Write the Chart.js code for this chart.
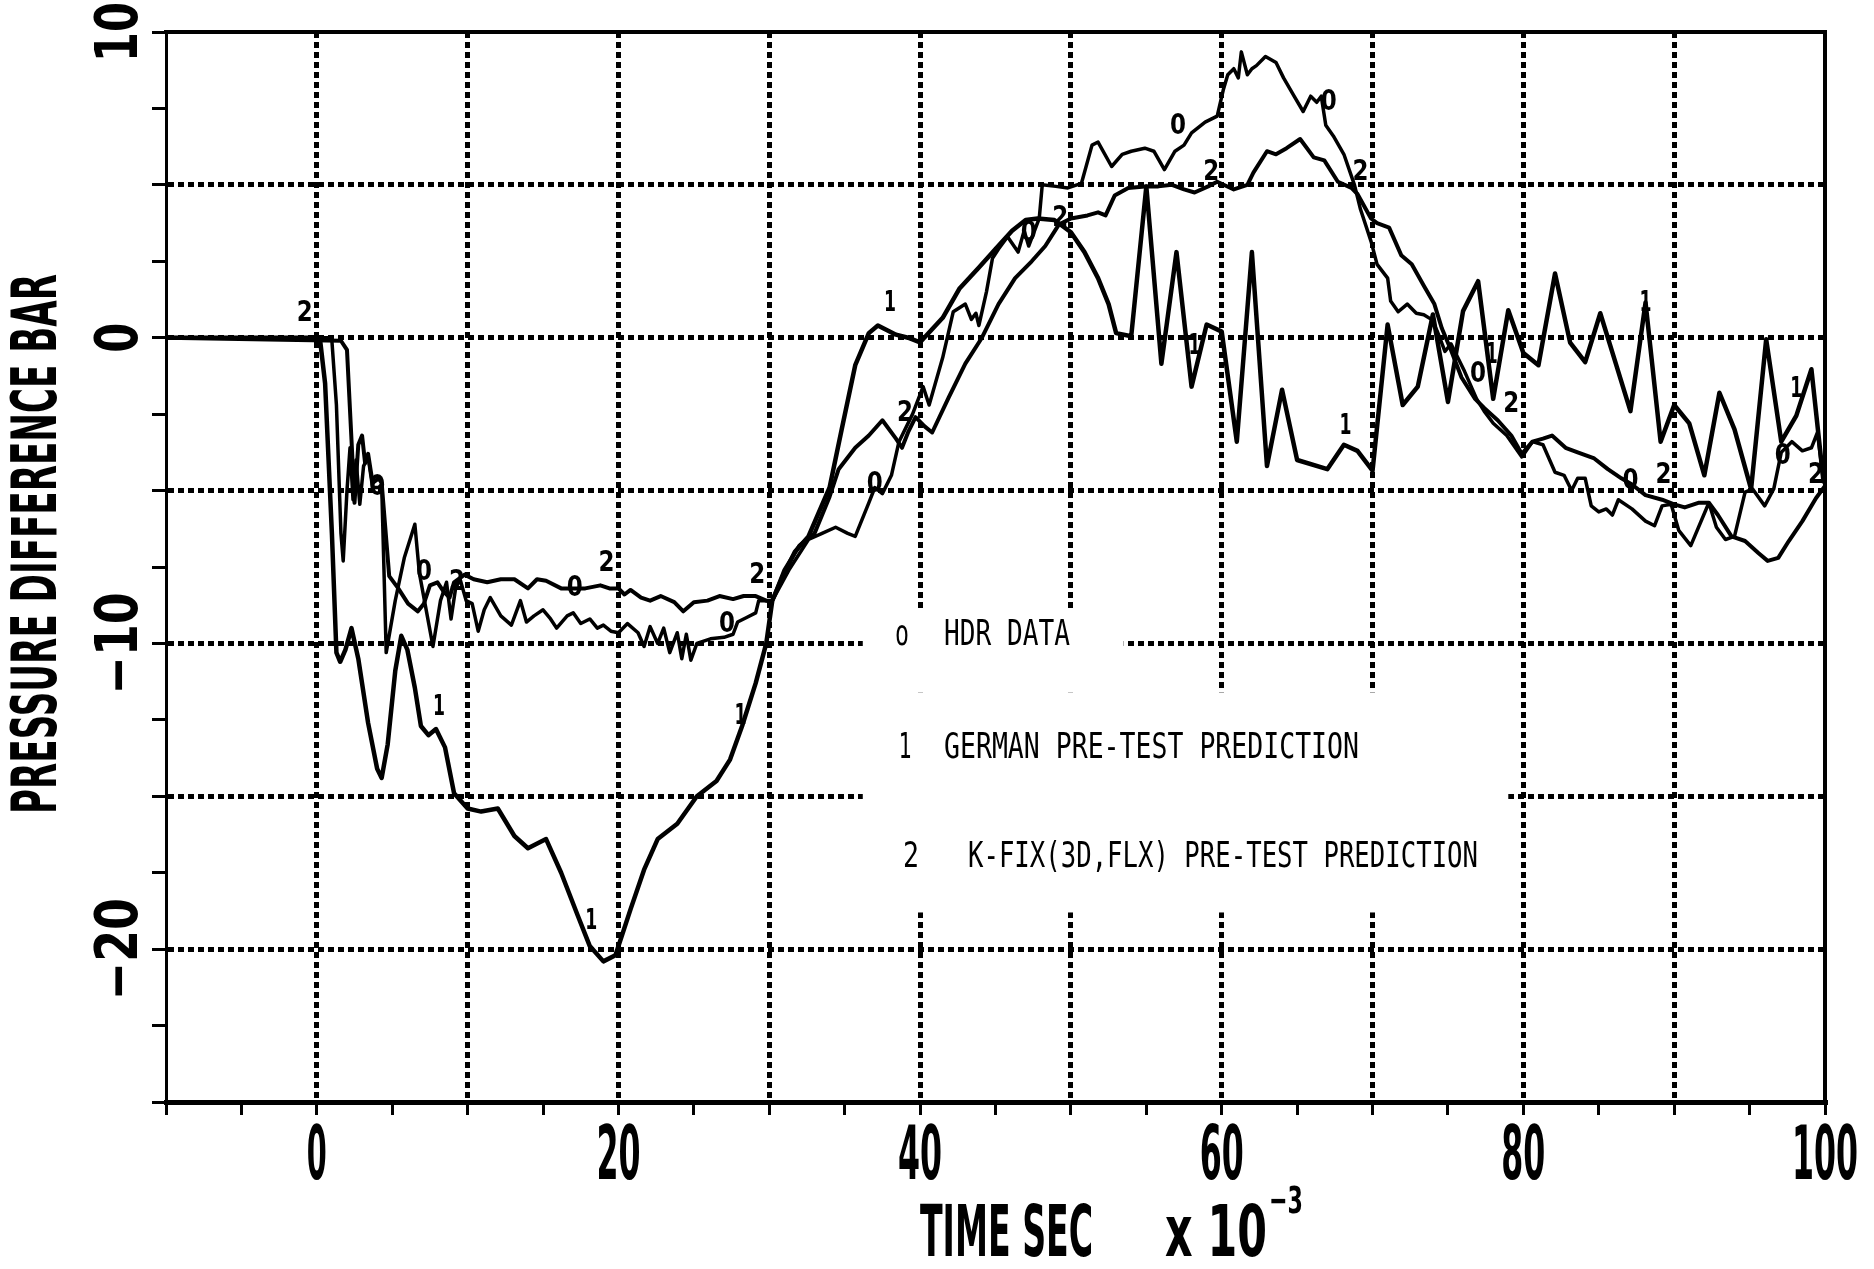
<!DOCTYPE html>
<html>
<head>
<meta charset="utf-8">
<script src="https://cdn.jsdelivr.net/npm/chart.js@4.4.1/dist/chart.umd.min.js"></script>
<style>
  html, body { margin: 0; padding: 0; background: #fff; }
</style>
</head>
<body>
<canvas id="chart" width="1874" height="1269"></canvas>
<script>
// tick labels
const timeTicks = [0, 20, 40, 60, 80, 100];
const pressureTicks = [10, 0, -10, -20];

// [time (ms), pressure difference (bar)]
const hdrData = [
  [-10,0],[0.8,0],[1.0,-0.1],[1.3,-2.2],[1.6,-6.4],[1.75,-7.3],[2.0,-5.0],[2.2,-3.6],[2.4,-5.3],[2.6,-4.0],
  [2.85,-5.45],[3.1,-4.2],[3.4,-3.9],[3.7,-4.9],[4.1,-4.9],[4.3,-4.8],[4.6,-10.3],[5.2,-8.6],[5.8,-7.2],[6.5,-6.1],
  [6.8,-7.7],[7.1,-8.5],[7.7,-10.1],[8.2,-8.6],[8.6,-8.0],[8.9,-9.2],[9.2,-8.2],[9.5,-7.9],[9.9,-8.6],[10.3,-8.7],
  [10.7,-9.6],[11.1,-8.9],[11.5,-8.5],[12.2,-9.1],[12.9,-9.4],[13.5,-8.6],[13.9,-9.3],[14.4,-9.1],[15,-8.9],[15.5,-9.2],
  [15.9,-9.5],[16.6,-9.1],[17,-9.0],[17.5,-9.35],[18.1,-9.2],[18.6,-9.5],[19,-9.4],[19.5,-9.6],[20,-9.65],[20.6,-9.35],
  [21.3,-9.65],[21.7,-10.1],[22.1,-9.45],[22.6,-10.0],[23,-9.5],[23.4,-10.3],[23.9,-9.65],[24.2,-10.5],[24.5,-9.7],[24.8,-10.55],
  [25.2,-10.0],[26.1,-9.85],[27,-9.8],[27.6,-9.7],[27.9,-9.3],[28.5,-9.15],[29.1,-9.0],[29.3,-8.6],[30.2,-8.6],[31.3,-7.6],
  [32.6,-6.6],[33.5,-6.4],[34.4,-6.2],[35.2,-6.4],[35.7,-6.5],[36.6,-5.4],[37,-4.9],[37.5,-5.1],[38.1,-4.5],[38.6,-3.4],
  [39.5,-2.5],[40.2,-1.6],[40.6,-2.2],[41.5,-0.65],[42.2,0.85],[43,1.1],[43.4,0.6],[43.7,0.8],[43.9,0.4],[44.4,1.5],
  [44.8,2.6],[45.2,2.9],[45.8,3.3],[46.5,2.8],[46.9,3.5],[47.2,3.0],[47.9,3.9],[48.1,5.0],[49,4.95],[49.8,4.9],
  [50.7,5.05],[51.4,6.3],[51.8,6.4],[52.7,5.6],[53.4,6.0],[54,6.1],[54.9,6.2],[55.5,6.1],[56.2,5.5],[56.9,6.1],
  [57.5,6.3],[58,6.7],[58.9,7.05],[59.7,7.25],[60.1,8.1],[60.4,8.6],[60.8,8.8],[61.1,8.5],[61.3,9.35],[61.7,8.6],
  [62,8.8],[62.3,8.9],[62.9,9.2],[63.6,9.0],[64.1,8.5],[64.8,7.9],[65.4,7.4],[65.9,7.9],[66.3,7.7],[66.6,7.9],
  [66.9,6.95],[67.4,6.6],[68.1,6.0],[68.8,5.0],[69.2,4.2],[69.9,3.15],[70.3,2.4],[71,1.95],[71.2,1.2],[71.7,0.85],
  [72.3,1.1],[72.9,0.8],[73.4,0.75],[73.9,0.6],[74.3,0.2],[74.8,-0.45],[75.2,-0.2],[76.1,-1.1],[76.9,-2.0],[77.4,-2.4],
  [78,-2.8],[78.9,-3.2],[79.9,-3.9],[80.6,-3.4],[81.3,-3.5],[82.1,-4.4],[82.7,-4.5],[83.2,-5.0],[83.6,-4.6],[84.1,-4.6],
  [84.5,-5.5],[85,-5.7],[85.5,-5.6],[85.9,-5.8],[86.3,-5.3],[87.2,-5.6],[88.1,-6.0],[88.7,-6.15],[89.2,-5.5],[89.8,-5.45],
  [90.3,-6.3],[91.1,-6.8],[92.3,-5.4],[92.8,-6.2],[93.4,-6.6],[94,-6.5],[94.7,-5.05],[95.2,-4.95],[96,-5.5],[96.6,-4.95],
  [97.1,-3.75],[97.8,-3.4],[98.5,-3.7],[99.1,-3.6],[99.5,-3.1],[99.9,-4.7]
];

const germanData = [
  [-10,0],[0.2,0],[0.55,-1.5],[1.0,-6.4],[1.3,-10.3],[1.55,-10.6],[1.9,-10.2],[2.3,-9.5],[2.75,-10.5],[3.4,-12.6],
  [4.0,-14.1],[4.3,-14.4],[4.7,-13.3],[5.2,-10.9],[5.6,-9.75],[6.0,-10.2],[6.5,-11.45],[6.9,-12.7],[7.4,-13.0],[7.9,-12.8],
  [8.5,-13.4],[9.1,-14.9],[10,-15.4],[10.9,-15.5],[12,-15.4],[13.1,-16.3],[14,-16.7],[15.2,-16.4],[16.2,-17.5],[17.3,-18.9],
  [18.1,-19.9],[19,-20.4],[19.8,-20.2],[20.8,-18.7],[21.7,-17.4],[22.6,-16.4],[23.9,-15.9],[25.2,-15.0],[26.5,-14.5],[27.4,-13.8],
  [28.2,-12.7],[29.1,-11.3],[29.8,-10.0],[30.2,-8.6],[30.9,-7.8],[31.7,-7.0],[32.6,-6.5],[34,-4.9],[34.8,-3.0],[35.7,-0.9],
  [36.6,0.15],[37.2,0.4],[38.4,0.1],[39.2,0],[40,-0.15],[41.5,0.65],[42.6,1.6],[43.9,2.3],[45,2.9],[46.1,3.5],
  [47,3.85],[47.8,3.9],[48.9,3.85],[50,3.45],[50.9,2.8],[51.8,1.95],[52.5,1.1],[53,0.15],[54,0.05],[55,4.95],
  [56,-0.85],[57,2.8],[58,-1.6],[59,0.43],[60,0.2],[61,-3.4],[62,2.8],[63,-4.2],[64,-1.7],[65,-4.0],
  [67,-4.3],[68.1,-3.5],[69,-3.7],[70,-4.35],[71,0.43],[72,-2.2],[73,-1.6],[74,0.76],[75,-2.1],[76,0.87],
  [77,1.85],[78,-2.0],[79,0.9],[80,-0.5],[81,-0.9],[82.1,2.1],[83.1,-0.16],[84.1,-0.8],[85.1,0.8],[86.1,-0.8],
  [87.1,-2.4],[88.1,1.15],[89.1,-3.4],[90,-2.2],[91,-2.8],[92,-4.5],[93,-1.8],[94,-3.0],[95.1,-4.95],[96.1,-0.05],
  [97.1,-3.4],[98.1,-2.55],[99.1,-1.03],[99.9,-4.7]
];

const kfixData = [
  [-10,0],[1.6,-0.1],[2.0,-0.4],[2.3,-3.35],[2.5,-5.4],[2.75,-3.5],[3.0,-3.2],[3.2,-4.1],[3.4,-3.8],[3.7,-4.75],
  [4.1,-4.6],[4.3,-4.75],[4.8,-7.8],[5.4,-8.2],[6.05,-8.7],[6.7,-8.95],[7.1,-8.7],[7.5,-8.1],[8.0,-8.0],[8.4,-8.3],
  [8.8,-8.5],[9.1,-8.0],[9.8,-7.75],[10.4,-7.9],[11.3,-8.0],[12.2,-7.9],[13.1,-7.9],[14,-8.2],[14.6,-7.9],[15.2,-7.95],
  [16.2,-8.2],[17,-8.2],[17.8,-8.2],[18.8,-8.1],[19.4,-8.2],[20,-8.2],[20.4,-8.4],[20.8,-8.25],[21.5,-8.5],[22.1,-8.6],
  [22.8,-8.45],[23.7,-8.65],[24.3,-8.95],[25,-8.65],[25.9,-8.6],[26.7,-8.45],[27.6,-8.55],[28.3,-8.45],[29.1,-8.45],[29.8,-8.6],
  [30.2,-8.6],[31,-7.6],[32,-6.8],[33,-6.4],[34,-5.2],[34.6,-4.3],[35.7,-3.6],[36.6,-3.2],[37.5,-2.7],[38.4,-3.3],
  [38.8,-3.6],[39.2,-3.1],[39.7,-2.6],[40.3,-2.9],[40.8,-3.1],[41.9,-1.95],[43,-0.85],[44.1,0],[45.2,1.1],[46.3,1.95],
  [47.4,2.5],[48.3,3.0],[49.2,3.7],[50,3.9],[51.1,4.0],[51.8,4.1],[52.3,4.0],[52.9,4.65],[53.8,4.9],[54.9,4.95],
  [55.8,4.95],[56.7,5.0],[57.5,4.85],[58.2,4.75],[59.1,4.95],[59.7,5.1],[60.8,4.85],[61.7,5.0],[62.1,5.4],[63,6.1],
  [63.6,6.0],[64.3,6.2],[65.2,6.5],[66.1,5.9],[66.8,5.8],[67.7,5.1],[68.6,4.9],[69,4.7],[69.9,3.9],[70.3,3.75],
  [71.1,3.6],[71.9,2.7],[72.6,2.4],[73.4,1.7],[74.1,1.1],[74.6,0.3],[75.2,-0.4],[75.9,-1.3],[76.8,-2.0],[77.4,-2.3],
  [78.3,-2.7],[79.2,-3.2],[79.9,-3.8],[80.6,-3.4],[81.3,-3.3],[81.9,-3.2],[82.8,-3.6],[83.6,-3.75],[84.7,-3.95],[85.6,-4.3],
  [86.5,-4.6],[87.2,-4.8],[88.1,-5.15],[89.2,-5.3],[90,-5.45],[90.7,-5.55],[91.6,-5.4],[92.3,-5.4],[92.9,-5.8],[93.8,-6.5],
  [94.7,-6.65],[95.6,-7.05],[96.2,-7.3],[96.9,-7.2],[97.6,-6.65],[98.5,-6.0],[99.4,-5.25],[100,-4.85]
];

// curve id digits written along each line
const hdrMarks = [[4.0,-4.9],[7.1,-7.7],[17.1,-8.2],[27.2,-9.4],[37.0,-4.8],[47.2,3.4],[57.1,6.9],[67.1,7.7],[77.0,-1.2],[87.1,-4.7],[97.2,-3.9]];
const germanMarks = [[8.1,-12.1],[18.2,-19.1],[28.1,-12.4],[38.0,1.1],[58.2,-0.3],[68.2,-2.9],[77.9,-0.6],[88.1,1.1],[98.1,-1.7]];
const kfixMarks = [[-0.8,0.8],[9.3,-8.0],[19.2,-7.4],[29.2,-7.8],[39.0,-2.5],[49.3,3.9],[59.3,5.4],[69.2,5.4],[79.2,-2.2],[89.3,-4.5],[99.4,-4.5]];

const legendSymbols = ['o', '1', '2'];
const legendLabels = ['HDR DATA', 'GERMAN PRE-TEST PREDICTION', 'K-FIX(3D,FLX) PRE-TEST PREDICTION'];

const toPoints = arr => arr.map(p => ({x: p[0], y: p[1]}));

// draw text squeezed to a given width (plotter lettering is very narrow)
function squeeze(ctx, text, x, y, font, width, align, angle) {
  ctx.save();
  ctx.font = font;
  ctx.fillStyle = '#000';
  ctx.textAlign = align || 'center';
  ctx.textBaseline = 'middle';
  ctx.translate(x, y);
  if (angle) ctx.rotate(angle);
  ctx.scale(width / ctx.measureText(text).width, 1);
  ctx.fillText(text, 0, 0);
  ctx.restore();
}

const paperPlugin = {
  id: 'paper',
  beforeDatasetsDraw(chart) {
    const {ctx, scales: {x, y}} = chart;
    // blank patch under the legend
    const blank = (t0, t1, p0, p1) => {
      const l = x.getPixelForValue(t0), r = x.getPixelForValue(t1);
      const tp = y.getPixelForValue(p0), bt = y.getPixelForValue(p1);
      ctx.fillRect(l, tp, r - l, bt - tp);
    };
    ctx.save();
    ctx.fillStyle = '#fff';
    blank(36.2, 53.5, -8.9, -11.6);
    blank(36.2, 79.0, -11.6, -18.8);
    ctx.restore();
  },
  afterDatasetsDraw(chart) {
    const {ctx, scales: {x, y}} = chart;
    const font = 'bold 28px "DejaVu Sans"';
    [[hdrMarks, '0'], [germanMarks, '1'], [kfixMarks, '2']].forEach(([marks, ch]) => {
      marks.forEach(m => squeeze(ctx, ch, x.getPixelForValue(m[0]), y.getPixelForValue(m[1]), font, ch === '1' ? 12 : 16));
    });
  },
  afterDraw(chart) {
    const {ctx, scales: {x, y}} = chart;

    // tick labels
    timeTicks.forEach(v => {
      const s = String(v);
      squeeze(ctx, s, x.getPixelForValue(v), x.top + 58, 'bold 74px "DejaVu Sans"', s.length === 1 ? 20 : 22 * s.length);
    });
    pressureTicks.forEach(v => {
      const s = v < 0 ? '\u2212' + Math.abs(v) : String(v);
      const w = 30 * String(Math.abs(v)).length + (v < 0 ? 42 : 0);
      squeeze(ctx, s, y.right - 44, y.getPixelForValue(v), 'bold 58px "DejaVu Sans"', w, 'center', -Math.PI / 2);
    });

    // axis titles
    squeeze(ctx, 'TIME SEC', 920, 1237, 'bold 72px "DejaVu Sans"', 173, 'left');
    squeeze(ctx, 'x 10', 1165, 1237, 'bold 72px "DejaVu Sans"', 102, 'left');
    squeeze(ctx, '\u22123', 1269, 1203, 'bold 38px "DejaVu Sans"', 34, 'left');
    squeeze(ctx, 'PRESSURE DIFFERENCE BAR', 40, 544, 'bold 62px "DejaVu Sans"', 540, 'center', -Math.PI / 2);

    // legend
    const lf = '35px "DejaVu Sans Mono"';
    squeeze(ctx, legendSymbols[0], 902, 636, lf, 14);
    squeeze(ctx, legendLabels[0], 944, 636, lf, 126, 'left');
    squeeze(ctx, legendSymbols[1], 905, 749, lf, 13);
    squeeze(ctx, legendLabels[1], 944, 749, lf, 415, 'left');
    squeeze(ctx, legendSymbols[2], 911, 858, lf, 16);
    squeeze(ctx, legendLabels[2], 968, 858, lf, 510, 'left');
  }
};

const lineStyle = {
  borderColor: '#000',
  borderWidth: 4,
  pointRadius: 0,
  tension: 0,
  fill: false,
  borderJoinStyle: 'round',
  borderCapStyle: 'round'
};

new Chart(document.getElementById('chart'), {
  type: 'line',
  data: {
    datasets: [
      Object.assign({label: legendLabels[0], data: toPoints(hdrData)}, lineStyle, {borderWidth: 3.5}),
      Object.assign({label: legendLabels[1], data: toPoints(germanData)}, lineStyle, {borderWidth: 4.5}),
      Object.assign({label: legendLabels[2], data: toPoints(kfixData)}, lineStyle)
    ]
  },
  options: {
    responsive: false,
    animation: false,
    devicePixelRatio: 1,
    layout: {padding: {top: 32, right: 49, left: 0, bottom: 0}},
    plugins: {legend: {display: false}, tooltip: {enabled: false}},
    scales: {
      x: {
        type: 'linear', position: 'bottom', min: -10, max: 100,
        ticks: {display: false, stepSize: 5},
        grid: {
          color: c => (c.tick.value % 10 === 0 && c.tick.value > -10 && c.tick.value < 100) ? '#000' : 'rgba(0,0,0,0)',
          lineWidth: 5, tickLength: 13, tickColor: '#000', tickWidth: 3
        },
        border: {color: '#000', width: 5, dash: [6, 4]},
        afterFit: s => { s.height = 167; }
      },
      y: {
        type: 'linear', position: 'left', min: -25, max: 10,
        ticks: {display: false, stepSize: 2.5},
        grid: {
          color: c => (Math.abs(c.tick.value % 5) < 1e-9 && c.tick.value > -25 && c.tick.value < 10) ? '#000' : 'rgba(0,0,0,0)',
          lineWidth: 5, tickLength: 14, tickColor: '#000', tickWidth: 3
        },
        border: {color: '#000', width: 3, dash: [6, 4]},
        afterFit: s => { s.width = 166; }
      },
      xTop: {
        type: 'linear', position: 'top', min: -10, max: 100,
        ticks: {display: false}, grid: {display: false},
        border: {display: true, color: '#000', width: 4},
        afterFit: s => { s.height = 0; }
      },
      yRight: {
        type: 'linear', position: 'right', min: -25, max: 10,
        ticks: {display: false}, grid: {display: false},
        border: {display: true, color: '#000', width: 4},
        afterFit: s => { s.width = 0; }
      }
    }
  },
  plugins: [paperPlugin]
});
</script>
</body>
</html>
